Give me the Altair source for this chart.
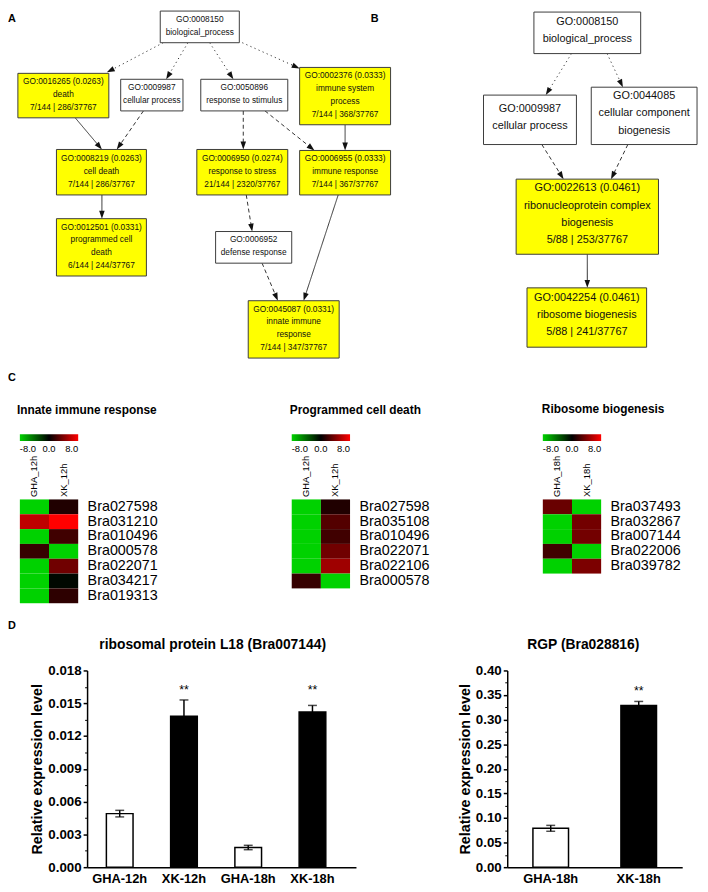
import math
import altair as alt
import pandas as pd

OFF = 8          # page margin: reference pixel -> canvas pixel
W, H = 700, 884
FONT = "Liberation Sans"
GREEN = "#00d200"

# ---------------- Panels A / B : GO graphs ----------------
node_id = ["a0", "a1", "a2", "a3", "a4", "a5", "a6", "a7", "a8", "a9", "a10",
           "b0", "b1", "b2", "b3", "b4"]
node_text = [
    ["GO:0008150", "biological_process"],
    ["GO:0016265 (0.0263)", "death", "7/144 | 286/37767"],
    ["GO:0009987", "cellular process"],
    ["GO:0050896", "response to stimulus"],
    ["GO:0002376 (0.0333)", "immune system", "process", "7/144 | 368/37767"],
    ["GO:0008219 (0.0263)", "cell death", "7/144 | 286/37767"],
    ["GO:0006950 (0.0274)", "response to stress", "21/144 | 2320/37767"],
    ["GO:0006955 (0.0333)", "immune response", "7/144 | 367/37767"],
    ["GO:0012501 (0.0331)", "programmed cell", "death", "6/144 | 244/37767"],
    ["GO:0006952", "defense response"],
    ["GO:0045087 (0.0331)", "innate immune", "response", "7/144 | 347/37767"],
    ["GO:0008150", "biological_process"],
    ["GO:0009987", "cellular process"],
    ["GO:0044085", "cellular component", "biogenesis"],
    ["GO:0022613 (0.0461)", "ribonucleoprotein complex", "biogenesis", "5/88 | 253/37767"],
    ["GO:0042254 (0.0461)", "ribosome biogenesis", "5/88 | 241/37767"],
]
node_enriched = ["no", "yes", "no", "no", "yes", "yes", "yes", "yes", "yes", "no", "yes",
                 "no", "no", "no", "yes", "yes"]
# graph layout (reference pixel positions)
node_x0 = [162, 18, 122, 203, 303, 57, 199, 303, 57, 218, 251, 540, 489, 598, 522, 533]
node_x1 = [242, 110, 185, 291, 395, 148, 291, 395, 148, 295, 343, 648, 583, 705, 666, 654]
node_y0 = [6, 69, 75, 75, 63, 146, 146, 147, 216, 229, 299, 7, 91, 83, 176, 286]
node_y1 = [38, 114, 107, 107, 121, 192, 192, 192, 274, 261, 357, 49, 141, 141, 252, 346]

edge_style = (["dotted"] * 4 +
              ["solid", "dashed", "dashed", "dashed", "solid", "solid", "dashed", "dashed", "solid"] +
              ["dotted", "dotted", "dashed", "dashed", "solid"])
edge_x1 = [165, 190, 212, 245, 76, 145, 246, 268, 349, 103, 249, 265, 342, 578, 614, 548, 635, 594]
edge_y1 = [38, 38, 38, 38, 114, 107, 107, 107, 121, 192, 192, 261, 192, 49, 49, 141, 141, 252]
edge_x2 = [108, 168, 236, 303, 103, 118, 246, 318, 349, 103, 255, 281, 307, 552, 630, 570, 618, 594]
edge_y2 = [68, 75, 75, 64, 146, 146, 146, 147, 147, 216, 229, 299, 299, 91, 83, 176, 176, 286]

# annotations (panel letters and sub-titles)
ann_text = ["A", "B", "C", "D", "Innate immune response", "Programmed cell death", "Ribosome biogenesis"]
ann_x = [8, 375, 8, 8, 17, 293, 548]
ann_y = [14, 14, 377, 628, 410, 410, 409]
ann_size = [11, 11, 11, 11, 12, 12, 12]
dtitle_text = ["ribosomal protein L18 (Bra007144)", "RGP (Bra028816)"]
dtitle_x = [215, 590]
dtitle_y = [647, 647]

# ---------------- Panel C : heatmaps ----------------
hm1_genes = ["Bra027598", "Bra031210", "Bra010496", "Bra000578", "Bra022071", "Bra034217", "Bra019313"]
hm1_gha = [-8, 6.0, -8, 1.7, -8, -8, -8]
hm1_xk = [1.0, 8.0, 2.0, -8, 3.5, -0.3, 1.4]
hm2_genes = ["Bra027598", "Bra035108", "Bra010496", "Bra022071", "Bra022106", "Bra000578"]
hm2_gha = [-8, -8, -8, -8, -8, 1.7]
hm2_xk = [1.0, 2.6, 2.0, 3.5, 5.0, -8]
hm3_genes = ["Bra037493", "Bra032867", "Bra007144", "Bra022006", "Bra039782"]
hm3_gha = [3.3, -8, -8, 2.0, -8]
hm3_xk = [-8, 3.6, 3.6, -8, 3.9]
samples_12 = ["GHA_12h", "XK_12h"]
samples_18 = ["GHA_18h", "XK_18h"]

# ---------------- Panel D : qRT-PCR bars ----------------
rp_cond = ["GHA-12h", "XK-12h", "GHA-18h", "XK-18h"]
rp_mean = [0.0049, 0.0138, 0.0018, 0.0142]
rp_err = [0.0003, 0.0015, 0.0002, 0.0006]
rp_sig = ["", "**", "", "**"]
rgp_cond = ["GHA-18h", "XK-18h"]
rgp_mean = [0.079, 0.329]
rgp_err = [0.006, 0.008]
rgp_sig = ["", "**"]

# ======================================================================
PXS = alt.Scale(domain=[OFF, OFF + W], range=[0, W], nice=False, zero=False)
PYS = alt.Scale(domain=[OFF, OFF + H], range=[0, H], nice=False, zero=False)


def PX(f):
    return alt.X(f"{f}:Q", scale=PXS, axis=None)


def PY(f):
    return alt.Y(f"{f}:Q", scale=PYS, axis=None)


nodes = pd.DataFrame(dict(id=node_id, x0=node_x0, x1=node_x1, y0=node_y0, y1=node_y1,
                          enriched=node_enriched))
boxes = alt.Chart(nodes).mark_rect(stroke="#3c3c3c", strokeWidth=1).encode(
    x=PX("x0"), x2=alt.X2("x1"), y=PY("y0"), y2=alt.Y2("y1"),
    fill=alt.Fill("enriched:N", scale=alt.Scale(domain=["yes", "no"], range=["#ffff00", "#ffffff"]),
                  legend=None),
)

rows = []
for i, nid in enumerate(node_id):
    lines = node_text[i]
    panel = nid[0]
    sp = 13 if panel == "a" else 17.5
    sh = -1.5 if panel == "a" else -2.5
    cx = (node_x0[i] + node_x1[i]) / 2
    cy = (node_y0[i] + node_y1[i]) / 2 + sh
    n = len(lines)
    for k, t in enumerate(lines):
        rows.append(dict(panel=panel, text=t, x=cx, y=cy + (k - (n - 1) / 2) * sp))
lines_df = pd.DataFrame(rows)
txtA = alt.Chart(lines_df[lines_df.panel == "a"]).mark_text(
    font=FONT, fontSize=8.4, color="#111111", baseline="middle", align="center").encode(
    x=PX("x"), y=PY("y"), text="text:N")
txtB = alt.Chart(lines_df[lines_df.panel == "b"]).mark_text(
    font=FONT, fontSize=11, color="#111111", baseline="middle", align="center").encode(
    x=PX("x"), y=PY("y"), text="text:N")

erows = []
AL = 8.0
for s, x1, y1, x2, y2 in zip(edge_style, edge_x1, edge_y1, edge_x2, edge_y2):
    dx, dy = x2 - x1, y2 - y1
    d = math.hypot(dx, dy)
    ux, uy = dx / d, dy / d
    ang = math.degrees(math.atan2(ux, -uy)) % 360
    erows.append(dict(style=s, x1=x1, y1=y1, xe=x2 - ux * 6, ye=y2 - uy * 6,
                      hx=x2 - ux * AL / 2, hy=y2 - uy * AL / 2, ang=ang))
edges_df = pd.DataFrame(erows)
edge_lines = alt.Chart(edges_df).mark_rule(color="#333333", strokeWidth=1).encode(
    x=PX("x1"), y=PY("y1"), x2=alt.X2("xe"), y2=alt.Y2("ye"),
    strokeDash=alt.StrokeDash("style:N", scale=alt.Scale(domain=["dotted", "dashed", "solid"],
                                                         range=[[1.2, 3.3], [4, 3], [1, 0]]),
                              legend=None),
)
heads = alt.Chart(edges_df).mark_point(shape="M0,-1L0.7,1L-0.7,1Z", filled=True, size=AL * AL,
                                       color="#111111", opacity=1).encode(
    x=PX("hx"), y=PY("hy"), angle=alt.Angle("ang:Q", scale=None))

ann_df = pd.DataFrame(dict(text=ann_text, x=ann_x, y=ann_y, fs=ann_size))
ann = alt.Chart(ann_df).mark_text(font=FONT, fontWeight="bold", align="left", baseline="middle",
                                  color="black").encode(
    x=PX("x"), y=PY("y"), text="text:N", size=alt.Size("fs:Q", scale=None))
dt_df = pd.DataFrame(dict(text=dtitle_text, x=dtitle_x, y=dtitle_y))
dtitles = alt.Chart(dt_df).mark_text(font=FONT, fontWeight="bold", fontSize=14, align="center",
                                     baseline="middle", color="black").encode(
    x=PX("x"), y=PY("y"), text="text:N")

diagram = alt.layer(edge_lines, heads, boxes, txtA, txtB, ann, dtitles)

LEG_LABEL = "datum.value < 0 ? '-' + format(-datum.value, '.1f') : format(datum.value, '.1f')"


def heatmap(genes, gha, xk, samples, left, top):
    n = len(genes)
    df = pd.DataFrame({"gene": genes * 2,
                       "sample": [samples[0]] * n + [samples[1]] * n,
                       "value": list(gha) + list(xk)})
    xr = [left - OFF, left - OFF + 59]
    yr = [top - OFF, top - OFF + 15 * n]
    return alt.Chart(df).mark_rect().encode(
        x=alt.X("sample:N", sort=samples,
                scale=alt.Scale(domain=samples, range=xr, paddingInner=0, paddingOuter=0),
                axis=alt.Axis(orient="top", offset=-(top - OFF), labelAngle=270, labelAlign="left",
                              labelBaseline="middle", labelFontSize=9.5, labelPadding=3,
                              ticks=False, domain=False, title=None)),
        y=alt.Y("gene:N", sort=genes,
                scale=alt.Scale(domain=genes, range=yr, paddingInner=0, paddingOuter=0),
                axis=alt.Axis(orient="right", offset=(left - OFF + 59) - W, labelFontSize=14.5,
                              labelPadding=9, ticks=False, domain=False, title=None)),
        color=alt.Color("value:Q",
                        scale=alt.Scale(domain=[-8, 0, 8], range=[GREEN, "#000000", "#ff0000"],
                                        interpolate="rgb", clamp=True),
                        legend=alt.Legend(orient="none", legendX=left - OFF, legendY=434 - OFF,
                                          direction="horizontal", gradientLength=59,
                                          gradientThickness=7, title=None, values=[-8, 0, 8],
                                          labelExpr=LEG_LABEL, labelFontSize=9.5, labelOffset=3,
                                          gradientStrokeWidth=0)),
    )


hm1 = heatmap(hm1_genes, hm1_gha, hm1_xk, samples_12, 20, 500)
hm2 = heatmap(hm2_genes, hm2_gha, hm2_xk, samples_12, 295, 500)
hm3 = heatmap(hm3_genes, hm3_gha, hm3_xk, samples_18, 549, 500)


def bar_panel(cond, mean, err, sig, ymax, ystep, fmt, xr, pin, pout, align, star_level):
    df = pd.DataFrame(dict(cond=cond, mean=mean, err=err, sig=sig,
                           group=[c.split("-")[0] for c in cond]))
    df["lo"] = df["mean"] - df["err"]
    df["hi"] = df["mean"] + df["err"]
    df["star"] = star_level
    xs = alt.Scale(domain=cond, range=xr, paddingInner=pin, paddingOuter=pout, align=align)
    ys = alt.Scale(domain=[0, ymax], range=[864, 665], nice=False, zero=False)
    nt = int(round(ymax / ystep))
    major = [round(i * ystep, 6) for i in range(nt + 1)]
    minor = [round((i + 0.5) * ystep, 6) for i in range(nt)]
    yoff = -(xr[0])
    base = alt.Chart(df)
    xenc = alt.X("cond:N", sort=cond, scale=xs,
                 axis=alt.Axis(orient="bottom", offset=-(H - 864), labelAngle=0, labelFontSize=13,
                               labelFontWeight="bold", labelPadding=5, ticks=False,
                               domainWidth=1.5, domainColor="black", title=None))
    bars = base.mark_bar(stroke="black", strokeWidth=1.5).encode(
        x=xenc,
        y=alt.Y("mean:Q", scale=ys,
                axis=alt.Axis(orient="left", offset=yoff, values=major, format=fmt,
                              labelFontSize=13.5, labelFontWeight="bold", labelPadding=2,
                              tickSize=4, tickWidth=1.5, domainWidth=1.5, grid=False,
                              title="Relative expression level", titleFontSize=14.5,
                              titleFontWeight="bold", titlePadding=3)),
        fill=alt.Fill("group:N", scale=alt.Scale(domain=["GHA", "XK"], range=["#ffffff", "#000000"]),
                      legend=None),
    )
    xplain = alt.X("cond:N", sort=cond, scale=xs)
    errs = base.mark_rule(color="black", strokeWidth=1.5).encode(
        x=xplain, y=alt.Y("lo:Q", scale=ys), y2=alt.Y2("hi"))
    cap_hi = base.mark_tick(color="black", thickness=1.5, size=9).encode(
        x=xplain, y=alt.Y("hi:Q", scale=ys))
    cap_lo = base.mark_tick(color="black", thickness=1.5, size=9).encode(
        x=xplain, y=alt.Y("lo:Q", scale=ys))
    stars = base.mark_text(font=FONT, fontSize=12.5, color="black", baseline="alphabetic").encode(
        x=xplain, y=alt.Y("star:Q", scale=ys), text="sig:N")
    panel = alt.layer(bars, errs, cap_hi, cap_lo, stars)
    minor_ax = base.mark_tick(opacity=0).encode(
        x=alt.X("cond:N", sort=cond, scale=xs, axis=None),
        y=alt.Y("mean:Q", scale=ys,
                axis=alt.Axis(orient="left", offset=yoff, values=minor, labels=False, domain=False,
                              tickSize=2.5, tickWidth=1, grid=False, title=None)))
    return [panel, minor_ax]


rp_layers = bar_panel(rp_cond, rp_mean, rp_err, rp_sig, 0.018, 0.003, ".3f",
                      [80, 352], 0.585, 0.385, 0.39, 0.0158)
rgp_layers = bar_panel(rgp_cond, rgp_mean, rgp_err, rgp_sig, 0.40, 0.05, ".2f",
                       [505, 682], 0.5955, 0.292, 0.5, 0.351)

chart = alt.layer(diagram, hm1, hm2, hm3, *rp_layers, *rgp_layers).resolve_scale(
    x="independent", y="independent", color="independent", fill="independent",
    strokeDash="independent", size="independent", angle="independent",
).properties(
    width=W, height=H, padding=0, autosize="none", background="white",
).configure_view(stroke=None).configure_axis(
    labelFont=FONT, titleFont=FONT, labelColor="black", titleColor="black",
    domainColor="black", tickColor="black", grid=False,
).configure_legend(labelFont=FONT, labelColor="black").configure_text(font=FONT)

chart.save("out.html", embed_options={"renderer": "svg", "actions": False})
